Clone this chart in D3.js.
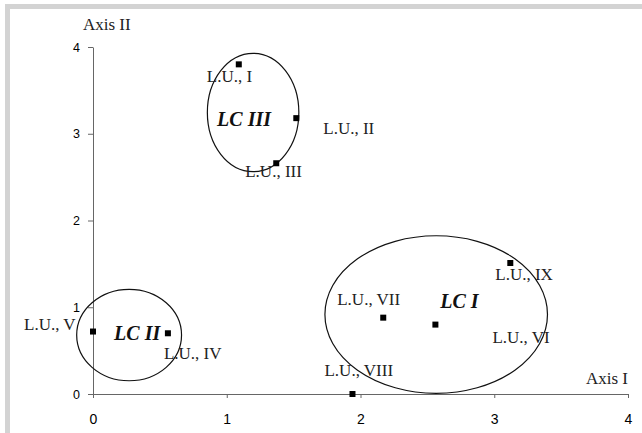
<html>
<head>
<style>
  body { margin: 0; background: #fff; }
</style>
</head>

<body>
  <svg id="svg" width="642" height="433"></svg>

  <script src="https://cdn.jsdelivr.net/npm/d3@7"></script>
  <script type="text/javascript">
  // landscape units (points)
  const unitNames = ["L.U., I", "L.U., II", "L.U., III", "L.U., IV", "L.U., V",
                     "L.U., VI", "L.U., VII", "L.U., VIII", "L.U., IX"];
  const axisI  = [1.09, 1.52, 1.37, 0.56, 0.00, 2.56, 2.17, 1.94, 3.12];
  const axisII = [3.80, 3.18, 2.66, 0.70, 0.72, 0.80, 0.88, 0.00, 1.51];

  // landscape complexes (ellipses)
  const clusterNames = ["LC I", "LC II", "LC III"];
  const clusterX  = [2.566, 0.270, 1.197];
  const clusterY  = [0.916, 0.680, 3.245];
  const clusterRx = [0.832, 0.392, 0.342];
  const clusterRy = [0.908, 0.527, 0.682];

  const tickValues = [0, 1, 2, 3, 4];

  // label placement, pixels from the point / ellipse centre
  const unitLabelOff = [[-32, 18], [27, 16], [-31, 14], [-4, 26], [-69, -2],
                        [57, 18], [-46, -13], [-28, -18], [-15, 17]];
  const clusterLabelOff = [[4, -7], [-15, 5], [-36, 13.5]];

  const svg = d3.select("#svg");
  const x = d3.scaleLinear().domain([0, 4]).range([93, 628]);
  const y = d3.scaleLinear().domain([0, 4]).range([394, 47]);

  // grey frame (top and left)
  svg.append("rect").attr("x", 5).attr("y", 4).attr("width", 637).attr("height", 5).attr("fill", "#d3d3d3");
  svg.append("rect").attr("x", 5).attr("y", 4).attr("width", 5).attr("height", 429).attr("fill", "#d3d3d3");

  function styleAxis(g, size) {
    g.select(".domain").attr("stroke", "#666");
    g.selectAll(".tick line").attr("stroke", "#666");
    g.selectAll(".tick text")
      .attr("fill", "#000")
      .style("font-family", "'Liberation Sans', Arial, sans-serif")
      .style("font-size", size + "px");
  }

  svg.append("g")
    .attr("transform", "translate(0," + y(0) + ")")
    .call(d3.axisBottom(x).tickValues(tickValues).tickFormat(d3.format("d"))
      .tickSize(4).tickSizeOuter(0).tickPadding(16))
    .call(g => styleAxis(g, 14));

  svg.append("g")
    .attr("transform", "translate(" + x(0) + ",0)")
    .call(d3.axisLeft(y).tickValues(tickValues).tickFormat(d3.format("d"))
      .tickSize(5).tickSizeOuter(0).tickPadding(8))
    .call(g => styleAxis(g, 12.5));

  const serif = "'Liberation Serif', 'Times New Roman', serif";

  svg.append("text").attr("x", 83).attr("y", 30).text("Axis II")
    .style("font-family", serif).style("font-size", "17px").attr("fill", "#222");
  svg.append("text").attr("x", 628).attr("y", 384).attr("text-anchor", "end").text("Axis I")
    .style("font-family", serif).style("font-size", "17px").attr("fill", "#222");

  // ellipses
  const clusters = clusterNames.map((n, i) => ({
    name: n, cx: clusterX[i], cy: clusterY[i], rx: clusterRx[i], ry: clusterRy[i], off: clusterLabelOff[i]
  }));

  svg.selectAll("ellipse").data(clusters).enter().append("ellipse")
    .attr("cx", d => x(d.cx))
    .attr("cy", d => y(d.cy))
    .attr("rx", d => x(d.rx) - x(0))
    .attr("ry", d => y(0) - y(d.ry))
    .attr("fill", "none")
    .attr("stroke", "#111")
    .attr("stroke-width", 1.2);

  svg.selectAll("text.lc").data(clusters).enter().append("text")
    .attr("class", "lc")
    .attr("x", d => x(d.cx) + d.off[0])
    .attr("y", d => y(d.cy) + d.off[1])
    .text(d => d.name)
    .style("font-family", serif)
    .style("font-size", "20px")
    .style("font-weight", "bold")
    .style("font-style", "italic")
    .attr("fill", "#111");

  // points
  const units = unitNames.map((n, i) => ({ name: n, a: axisI[i], b: axisII[i], off: unitLabelOff[i] }));

  svg.selectAll("rect.pt").data(units).enter().append("rect")
    .attr("class", "pt")
    .attr("x", d => x(d.a) - 3)
    .attr("y", d => y(d.b) - 3)
    .attr("width", 6)
    .attr("height", 6)
    .attr("fill", "#000");

  svg.selectAll("text.lu").data(units).enter().append("text")
    .attr("class", "lu")
    .attr("x", d => x(d.a) + d.off[0])
    .attr("y", d => y(d.b) + d.off[1])
    .text(d => d.name)
    .style("font-family", serif)
    .style("font-size", "17px")
    .attr("fill", "#222");
  </script>
</body>
</html>
